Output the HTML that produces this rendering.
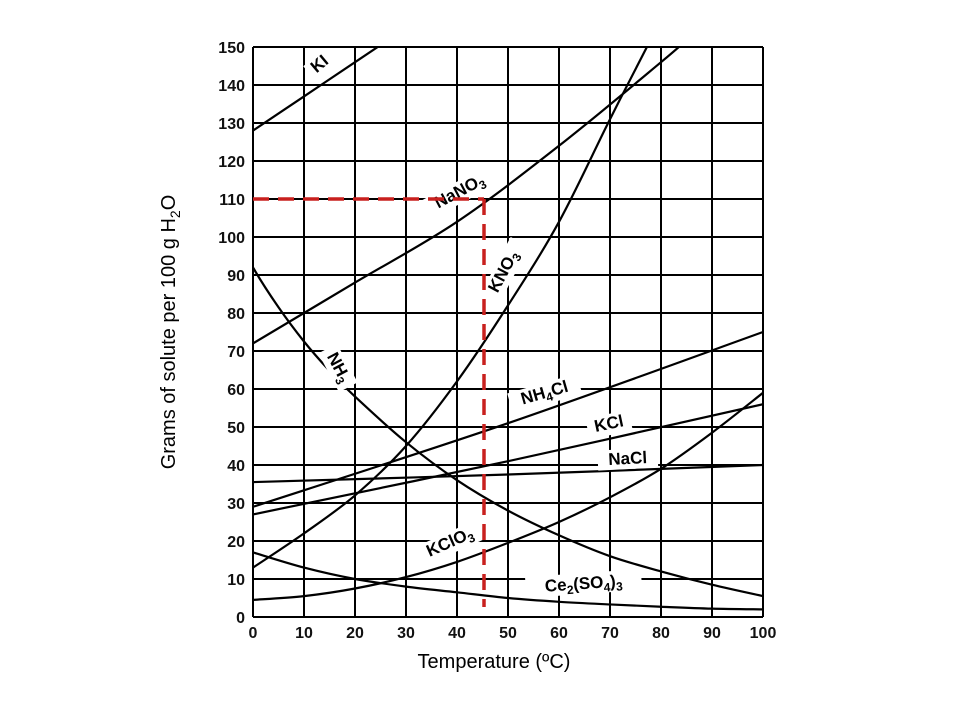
<!DOCTYPE html>
<html><head><meta charset="utf-8"><style>
body{margin:0;background:#fff;width:960px;height:720px;overflow:hidden}
svg{font-family:"Liberation Sans",Arial,sans-serif}
</style></head><body>
<svg id="s" width="960" height="720" xmlns="http://www.w3.org/2000/svg">
<g id="grid" stroke="#000" stroke-width="2"></g>
<g id="curves" fill="none" stroke="#000" stroke-width="2.2"></g>
<g id="ticks" font-size="16" font-weight="bold" fill="#111"></g>
<g font-size="17" font-weight="bold" fill="#000">
<g transform="translate(323,68) rotate(-40)"><rect x="-14" y="-14" width="28" height="19" fill="#fff"/><text text-anchor="middle">KI</text></g>
<g transform="translate(462,196) rotate(-28)"><rect x="-40" y="-15" width="80" height="21" fill="#fff"/><text text-anchor="middle">NaNO<tspan font-size="12" dy="4">3</tspan></text></g>
<g transform="translate(508,274) rotate(-62)"><rect x="-32" y="-15" width="66" height="21" fill="#fff"/><text text-anchor="middle">KNO<tspan font-size="12" dy="4">3</tspan></text></g>
<g transform="translate(334,370) rotate(62)"><rect x="-22" y="-15" width="44" height="21" fill="#fff"/><text text-anchor="middle">NH<tspan font-size="12" dy="4">3</tspan></text></g>
<g transform="translate(546,398) rotate(-16)"><rect x="-36" y="-15" width="72" height="21" fill="#fff"/><text text-anchor="middle">NH<tspan font-size="12" dy="4">4</tspan><tspan dy="-4">Cl</tspan></text></g>
<g transform="translate(610,429) rotate(-12)"><rect x="-22" y="-15" width="44" height="21" fill="#fff"/><text text-anchor="middle">KCl</text></g>
<g transform="translate(628,464) rotate(-3)"><rect x="-30" y="-15" width="60" height="20" fill="#fff"/><text text-anchor="middle">NaCl</text></g>
<g transform="translate(452,547) rotate(-24)"><rect x="-40" y="-15" width="80" height="21" fill="#fff"/><text text-anchor="middle">KClO<tspan font-size="12" dy="4">3</tspan></text></g>
<g transform="translate(584,589) rotate(-4)"><rect x="-58" y="-16" width="116" height="21" fill="#fff"/><text text-anchor="middle">Ce<tspan font-size="12" dy="4">2</tspan><tspan dy="-4">(SO</tspan><tspan font-size="12" dy="4">4</tspan><tspan dy="-4">)</tspan><tspan font-size="12" dy="4">3</tspan></text></g>
</g>
<g stroke="#c8201e" stroke-width="3.5" stroke-dasharray="16,9" fill="none">
<line x1="253" y1="199" x2="484" y2="199"/>
<line x1="484" y1="199" x2="484" y2="607"/>
</g>
<text x="494" y="668" font-size="20" text-anchor="middle">Temperature (ºC)</text>
<text transform="translate(175,332) rotate(-90)" font-size="20" text-anchor="middle">Grams of solute per 100 g H<tspan font-size="14" dy="5">2</tspan><tspan dy="-5">O</tspan></text>
</svg>
<script>
var X=t=>253+t*5.1, Y=v=>617-v*3.8;
var ns="http://www.w3.org/2000/svg";
function el(p,n,a,txt){var e=document.createElementNS(ns,n);for(var k in a)e.setAttribute(k,a[k]);if(txt!=null)e.textContent=txt;document.getElementById(p).appendChild(e);}
for(var i=0;i<=10;i++){el('grid','line',{x1:X(i*10),y1:Y(0),x2:X(i*10),y2:Y(150)});el('ticks','text',{x:X(i*10),y:638,'text-anchor':'middle'},i*10);}
for(var j=0;j<=15;j++){el('grid','line',{x1:X(0),y1:Y(j*10),x2:X(100),y2:Y(j*10)});el('ticks','text',{x:245,y:Y(j*10)+6,'text-anchor':'end'},j*10);}
var data=[
[[0,128],[10,137],[20,146],[25,150.5]],
[[0,72],[20,88],[40,104],[60,124],[80,146],[86,153]],
[[0,13],[10,22],[20,32],[30,45],[40,62],[50,82],[60,104],[70,131],[78,152]],
[[-5,105],[0,92],[5,81.5],[10,72.5],[15,64.8],[20,58],[30,46],[40,36],[50,28],[60,21.5],[70,16],[80,12],[90,8.5],[100,5.5]],
[[0,29],[50,51],[100,75]],
[[0,27],[50,41],[100,56]],
[[0,35.5],[50,37.5],[100,40]],
[[0,4.5],[10,5.5],[20,7.5],[30,10.5],[40,14.5],[50,19.5],[60,25],[70,31.5],[80,39],[90,48.5],[100,59]],
[[0,17],[10,13],[20,10],[30,8],[40,6.5],[50,5],[60,4],[70,3.3],[80,2.7],[90,2.2],[100,2]]
];
data.forEach(function(d){
 var p=d.map(q=>[X(q[0]),Y(q[1])]);var s="M"+p[0];
 for(var i=0;i<p.length-1;i++){var a=p[i-1]||p[i],b=p[i],c=p[i+1],e=p[i+2]||c;
  s+="C"+(b[0]+(c[0]-a[0])/6)+","+(b[1]+(c[1]-a[1])/6)+" "+(c[0]-(e[0]-b[0])/6)+","+(c[1]-(e[1]-b[1])/6)+" "+c;}
 el('curves','path',{d:s,'clip-path':'url(#c)'});
});
var cp=document.createElementNS(ns,'clipPath');cp.id='c';var r=document.createElementNS(ns,'rect');
r.setAttribute('x',X(0));r.setAttribute('y',Y(150));r.setAttribute('width',510);r.setAttribute('height',570);cp.appendChild(r);
document.getElementById('s').insertBefore(cp,document.getElementById('s').firstChild);
</script>
</body></html>
